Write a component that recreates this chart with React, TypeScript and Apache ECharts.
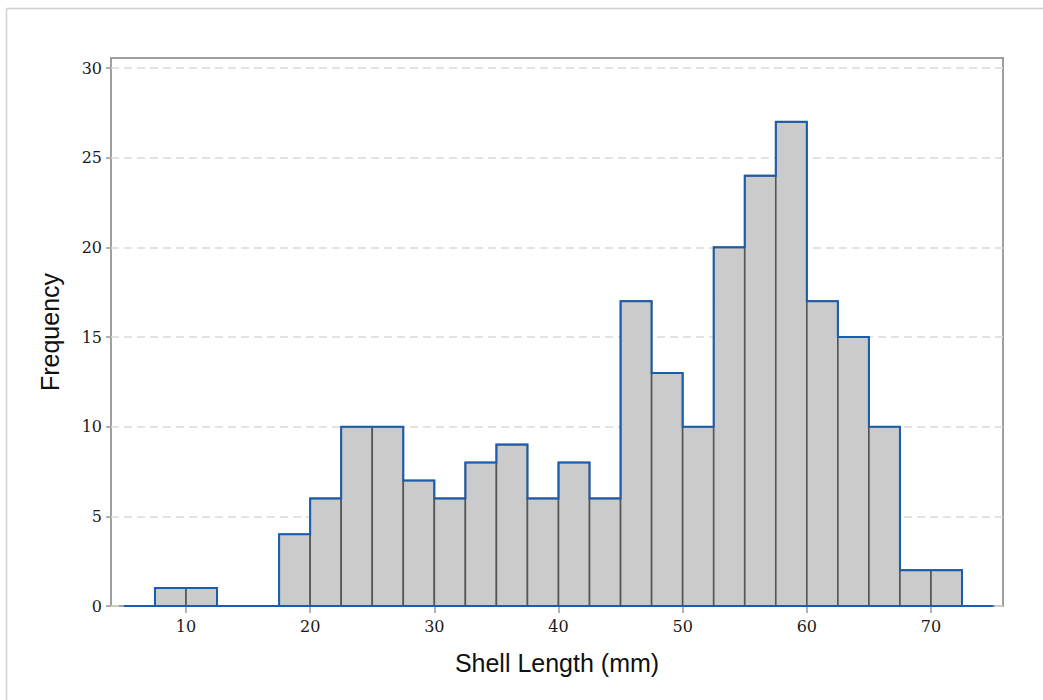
import React, { useEffect, useRef } from "react";
import * as echarts from "echarts";

// Histogram bins (width 2.5, first bin starts at 7.5)
const BIN_START = 7.5;
const BIN_WIDTH = 2.5;
const COUNTS = [1, 1, 0, 0, 4, 6, 10, 10, 7, 6, 8, 9, 6, 8, 6, 17, 13, 10, 20, 24, 27, 17, 15, 10, 2, 2];

// Axis ticks
const X_TICKS = [10, 20, 30, 40, 50, 60, 70];
const Y_TICKS = [0, 5, 10, 15, 20, 25, 30];

// Support range of the histogram baseline and plot-region extents
const SUPPORT = [5, 75];
const X_MIN = 3.96;
const X_MAX = 75.8;
const Y_MAX = 30.56;

const BLUE = "#1a5cad";

export default function App() {
  const ref = useRef<HTMLDivElement>(null);

  useEffect(() => {
    document.body.style.margin = "0";
    if (!ref.current) return;
    const chart = echarts.init(ref.current, null, { renderer: "svg" });

    const bins = COUNTS.map((c, i) => [BIN_START + i * BIN_WIDTH, BIN_START + (i + 1) * BIN_WIDTH, c]);

    const outline: number[][] = [[SUPPORT[0], 0], [bins[0][0], 0]];
    bins.forEach((b) => {
      outline.push([b[0], b[2]]);
      outline.push([b[1], b[2]]);
    });
    outline.push([bins[bins.length - 1][1], 0]);
    outline.push([SUPPORT[1], 0]);
    outline.push([SUPPORT[0], 0]);

    chart.setOption({
      animation: false,
      grid: {
        left: 111,
        right: 40,
        top: 58,
        bottom: 94,
        show: true,
        borderColor: "#9e9e9e",
        borderWidth: 2,
        backgroundColor: "transparent",
      },
      graphic: [
        {
          type: "line",
          silent: true,
          shape: { x1: 6.5, y1: 8.5, x2: 1043, y2: 8.5 },
          style: { stroke: "#d0d0d0", lineWidth: 1.5 },
        },
        {
          type: "line",
          silent: true,
          shape: { x1: 6.5, y1: 8.5, x2: 6.5, y2: 700 },
          style: { stroke: "#d0d0d0", lineWidth: 1.5 },
        },
      ],
      xAxis: {
        type: "value",
        min: X_MIN,
        max: X_MAX,
        name: "Shell Length (mm)",
        nameLocation: "middle",
        nameGap: 44,
        nameTextStyle: { fontFamily: "Liberation Sans", fontSize: 25, color: "#111" },
        axisLine: { show: false },
        axisTick: {
          show: true,
          customValues: X_TICKS,
          length: 7,
          lineStyle: { color: "#999", width: 1.5 },
        },
        axisLabel: {
          customValues: X_TICKS,
          margin: 12,
          fontFamily: "DejaVu Serif",
          fontSize: 16,
          color: "#1a1a1a",
        },
        splitLine: { show: false },
      },
      yAxis: {
        type: "value",
        min: 0,
        max: Y_MAX,
        interval: 5,
        name: "Frequency",
        nameLocation: "middle",
        nameGap: 49,
        nameTextStyle: { fontFamily: "Liberation Sans", fontSize: 25, color: "#111" },
        axisLine: { show: false },
        axisTick: {
          show: true,
          customValues: Y_TICKS,
          length: 5,
          lineStyle: { color: "#999", width: 1.5 },
        },
        axisLabel: {
          customValues: Y_TICKS,
          margin: 9,
          fontFamily: "DejaVu Serif",
          fontSize: 16,
          color: "#1a1a1a",
        },
        splitLine: {
          show: true,
          lineStyle: { type: [8, 5], color: "#dadada", width: 1.5 },
        },
      },
      series: [
        {
          type: "custom",
          data: bins.filter((b) => b[2] > 0),
          encode: { x: [0, 1], y: 2 },
          renderItem: (params: any, api: any) => {
            const lo = api.value(0);
            const hi = api.value(1);
            const v = api.value(2);
            const p0 = api.coord([lo, 0]);
            const p1 = api.coord([hi, v]);
            return {
              type: "rect",
              shape: { x: p0[0], y: p1[1], width: p1[0] - p0[0], height: p0[1] - p1[1] },
              style: { fill: "#cbcbcb", stroke: "#555", lineWidth: 1.6 },
            };
          },
          z: 2,
        },
        {
          type: "line",
          data: outline,
          symbol: "none",
          lineStyle: { color: BLUE, width: 2, join: "miter" },
          z: 3,
        },
      ],
    });

    return () => chart.dispose();
  }, []);

  return <div ref={ref} style={{ width: 1043, height: 700 }} />;
}
